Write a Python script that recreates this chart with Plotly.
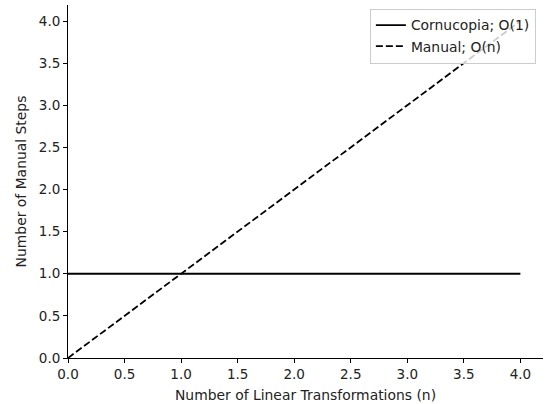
import plotly.graph_objects as go

x_vals = [0, 1, 2, 3, 4]
cornucopia = [1, 1, 1, 1, 1]
manual = [0, 1, 2, 3, 4]
tick_vals = [0.0, 0.5, 1.0, 1.5, 2.0, 2.5, 3.0, 3.5, 4.0]
tick_text = ["0.0", "0.5", "1.0", "1.5", "2.0", "2.5", "3.0", "3.5", "4.0"]

FS = 13.9
TFS = 13.5

fig = go.Figure()
fig.add_trace(go.Scatter(x=x_vals, y=cornucopia, mode="lines", name="Cornucopia; O(1)",
                         line=dict(color="black", width=1.8)))
fig.add_trace(go.Scatter(x=x_vals, y=manual, mode="lines", name="Manual; O(n)",
                         line=dict(color="black", width=1.8, dash="7px,3px")))

axis_common = dict(showgrid=False, zeroline=False, showline=True, linecolor="black", linewidth=1,
                   ticks="outside", ticklen=4, tickwidth=1, tickcolor="black",
                   tickfont=dict(family="DejaVu Sans", size=TFS, color="#222222"),
                   tickmode="array", tickvals=tick_vals, ticktext=tick_text,
                   automargin=False)

fig.update_layout(
    width=547, height=404,
    margin=dict(l=68, r=4, t=5, b=46),
    plot_bgcolor="white", paper_bgcolor="white",
    font=dict(family="DejaVu Sans", size=FS, color="#222222"),
    xaxis=dict(range=[0, 4.2], title=dict(text="Number of Linear Transformations (n)", standoff=9,
               font=dict(size=FS)), **axis_common),
    yaxis=dict(range=[0, 4.19], title=dict(text="Number of Manual Steps", standoff=8,
               font=dict(size=FS)), **axis_common),
    legend=dict(x=0.985, y=0.99, xanchor="right", yanchor="top",
                bgcolor="rgba(255,255,255,0.8)", bordercolor="#cccccc", borderwidth=1,
                font=dict(size=FS, family="DejaVu Sans", color="#222222"),
                tracegroupgap=0, itemwidth=30),
    showlegend=True,
)

fig.write_html("out.html", config={"displayModeBar": False},
               post_script="document.body.style.margin='0px';document.body.style.padding='0px';")
